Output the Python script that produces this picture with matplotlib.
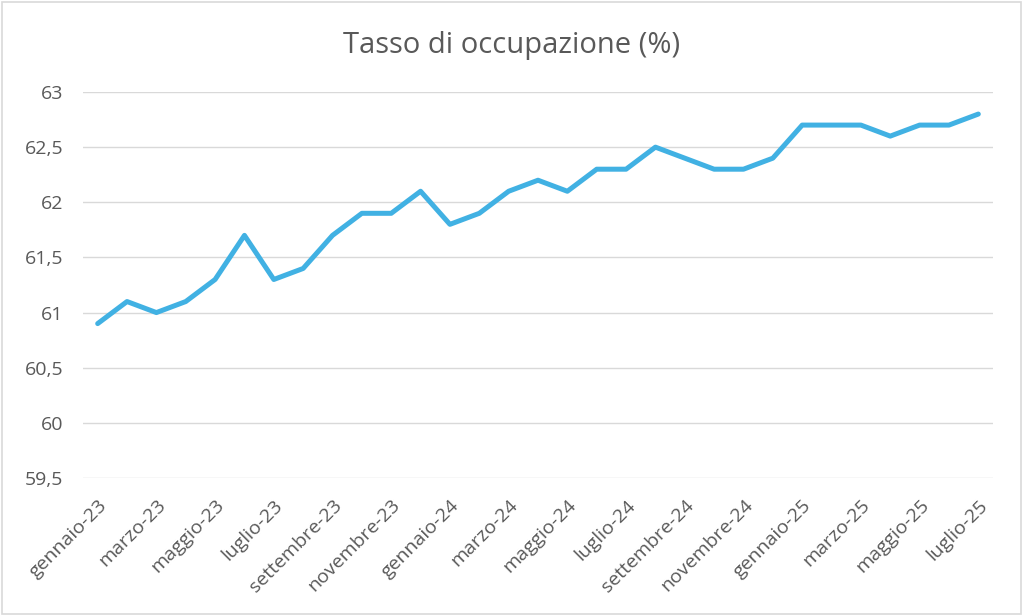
import matplotlib
matplotlib.use("Agg")
import matplotlib.pyplot as plt
from matplotlib.patches import Rectangle
from matplotlib.ticker import FuncFormatter

# mesi gennaio-23 .. luglio-25
months = ["gennaio", "febbraio", "marzo", "aprile", "maggio", "giugno",
          "luglio", "agosto", "settembre", "ottobre", "novembre", "dicembre"]
labels = []
for yy in ["23", "24", "25"]:
    for m in months:
        labels.append(m + "-" + yy)
labels = labels[:31]

values = [60.9, 61.1, 61.0, 61.1, 61.3, 61.7, 61.3, 61.4, 61.7, 61.9,
          61.9, 62.1, 61.8, 61.9, 62.1, 62.2, 62.1, 62.3, 62.3, 62.5,
          62.4, 62.3, 62.3, 62.4, 62.7, 62.7, 62.7, 62.6, 62.7, 62.7,
          62.8]
yticks = [59.5, 60, 60.5, 61, 61.5, 62, 62.5, 63]

plt.rcParams['font.family'] = ['Open Sans', 'DejaVu Sans']
textcol = '#595959'

fig = plt.figure(figsize=(10.24, 6.16), dpi=100)
ax = fig.add_axes([83/1024, 1 - 478/616, 910/1024, 386/616])

x = list(range(len(values)))
ax.plot(x, values, color='#41B1E3', linewidth=3.6, solid_joinstyle='round',
        solid_capstyle='round')

ax.set_xlim(-0.5, len(values) - 0.5)
ax.set_ylim(59.5, 63)
ax.set_yticks(yticks)
ax.yaxis.set_major_formatter(FuncFormatter(lambda v, p: ('%g' % v).replace('.', ',')))
ax.set_xticks(x[::2])
ax.set_xticklabels(labels[::2], rotation=45, ha='right', rotation_mode='anchor')

ax.grid(axis='y', color='#D9D9D9', linewidth=1)
ax.set_axisbelow(True)
for s in ax.spines.values():
    s.set_visible(False)
ax.tick_params(length=0, labelsize=14, colors=textcol)
ax.tick_params(axis='y', pad=14)
ax.tick_params(axis='x', pad=13)

fig.suptitle('Tasso di occupazione (%)', y=1 - 45/616, va='center',
             fontsize=21, color=textcol)

fig.patches.append(Rectangle((0.002, 0.003), 0.995, 0.994, transform=fig.transFigure,
                             fill=False, edgecolor='#D9D9D9', linewidth=1.2))

fig.savefig('out.png', dpi=100, facecolor='white')
